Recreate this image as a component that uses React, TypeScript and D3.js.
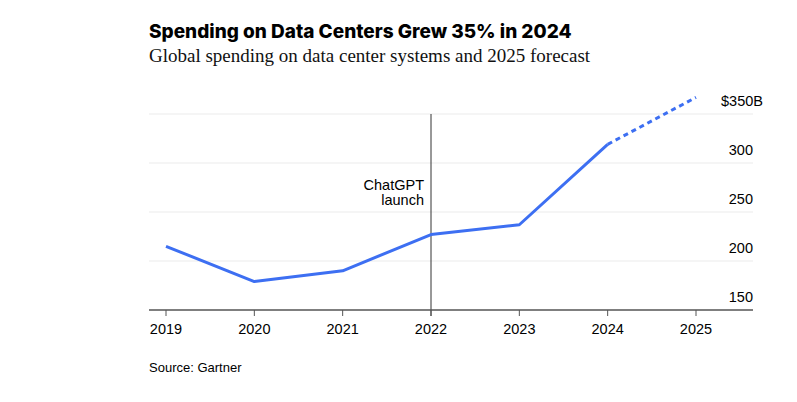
import * as d3 from "d3";

const years = [2019, 2020, 2021, 2022, 2023, 2024, 2025];
const spending = [215, 179, 190, 227, 237, 319, 367];
const yTicks = [150, 200, 250, 300, 350];
const forecastFrom = 2024;
const eventYear = 2022;
const eventLabel = ["ChatGPT", "launch"];

const W = 797;
const H = 402;
const margin = { left: 149, right: 44, top: 114, bottom: 92 };

export default function App() {
  const x = d3
    .scaleLinear()
    .domain([2019, 2025])
    .range([166, 696]);
  const y = d3
    .scaleLinear()
    .domain([150, 350])
    .range([H - margin.bottom, margin.top]);

  const pts = years.map((yr, i) => ({ yr, v: spending[i] }));
  const line = d3
    .line<{ yr: number; v: number }>()
    .x((d) => x(d.yr))
    .y((d) => y(d.v));
  const actual = pts.filter((d) => d.yr <= forecastFrom);
  const forecast = pts.filter((d) => d.yr >= forecastFrom);

  const x0 = margin.left;
  const x1 = W - margin.right;
  const font = "'Liberation Sans', Arial, sans-serif";
  const last = yTicks[yTicks.length - 1];

  return (
    <svg
      width={W}
      height={H}
      style={{ position: "absolute", left: 0, top: 0, background: "#fff" }}
    >
      <text x={149} y={38} fontFamily="Inter, 'Liberation Sans', sans-serif" fontWeight={800} fontSize={19} fill="#000">
        Spending on Data Centers Grew 35% in 2024
      </text>
      <text x={149} y={62} fontFamily="'Liberation Serif', 'DejaVu Serif', serif" fontSize={19} fill="#111">
        Global spending on data center systems and 2025 forecast
      </text>

      {yTicks.slice(1).map((t) => (
        <line key={t} x1={x0} x2={x1} y1={y(t)} y2={y(t)} stroke="#ebebeb" strokeWidth={1} />
      ))}
      {yTicks.slice(0, -1).map((t) => (
        <text key={t} x={x1} y={y(t) - 8} textAnchor="end" fontFamily={font} fontSize={14.5} fill="#000">
          {t}
        </text>
      ))}
      <text x={x1 - 32} y={y(last) - 8} fontFamily={font} fontSize={14.5} fill="#000">
        {`$${last}B`}
      </text>

      <line x1={x(eventYear)} x2={x(eventYear)} y1={y(350)} y2={y(150) + 6} stroke="#333" strokeWidth={1} />
      {eventLabel.map((s, i) => (
        <text key={s} x={x(eventYear) - 7} y={190 + i * 15} textAnchor="end" fontFamily={font} fontSize={14.5} fill="#000">
          {s}
        </text>
      ))}

      <line x1={x0} x2={x1} y1={y(150)} y2={y(150)} stroke="#555" strokeWidth={1.5} />
      {years.map((yr) => (
        <g key={yr}>
          <line x1={x(yr)} x2={x(yr)} y1={y(150)} y2={y(150) + 6} stroke="#555" strokeWidth={1} />
          <text x={x(yr)} y={334} textAnchor="middle" fontFamily={font} fontSize={14.5} fill="#000">
            {yr}
          </text>
        </g>
      ))}

      <path d={line(actual) || ""} fill="none" stroke="#3d6ff2" strokeWidth={3} strokeLinejoin="round" />
      <path d={line(forecast) || ""} fill="none" stroke="#3d6ff2" strokeWidth={3} strokeDasharray="5 4" />

      <text x={149} y={372} fontFamily={font} fontSize={13} fill="#000">
        Source: Gartner
      </text>
    </svg>
  );
}
